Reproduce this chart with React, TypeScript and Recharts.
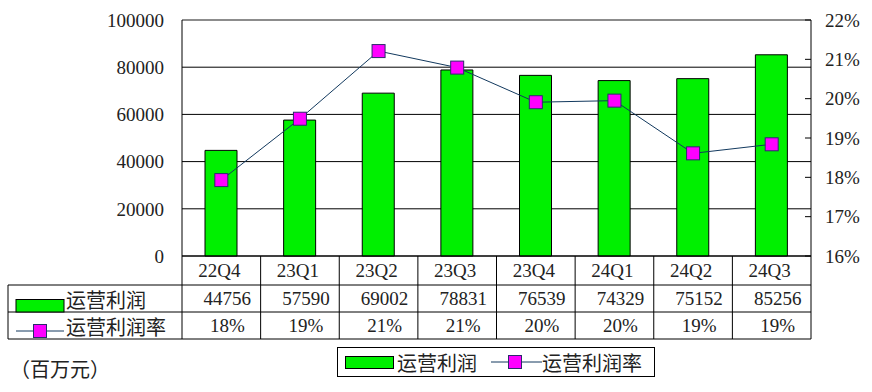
import React from "react";
import { ComposedChart, Bar, Line, XAxis, YAxis, CartesianGrid, ReferenceLine } from "recharts";

const QUARTERS = ["22Q4", "23Q1", "23Q2", "23Q3", "23Q4", "24Q1", "24Q2", "24Q3"];
const OP_PROFIT = [44756, 57590, 69002, 78831, 76539, 74329, 75152, 85256];
const OP_MARGIN = [0.1793, 0.1949, 0.2121, 0.2079, 0.1991, 0.1995, 0.1861, 0.1884];
const LEFT_TICKS = [0, 20000, 40000, 60000, 80000, 100000];
const RIGHT_TICKS = [0.16, 0.17, 0.18, 0.19, 0.2, 0.21, 0.22];
const SERIES_NAMES = ["运营利润", "运营利润率"];
const UNIT_LABEL = "（百万元）";

const data = QUARTERS.map((q, i) => ({
  quarter: q,
  profit: OP_PROFIT[i],
  margin: OP_MARGIN[i],
}));

// layout
const W = 872;
const H = 392;
const PLOT_LEFT = 182;
const PLOT_RIGHT = 811;
const PLOT_TOP = 20;
const TABLE_LEFT = 8;
const ROW1 = 285;
const ROW2 = 312;
const ROW3 = 339;

const GREEN = "#00f000";
const MAGENTA = "#ff00ff";
const LINE_COLOR = "#12395e";
const BORDER = "#2b2b6b";
const FONT = "'Liberation Serif', 'Noto Sans CJK SC', serif";
const CJK_FONT = "'Noto Sans CJK SC', sans-serif";
const TEXT = "#222";

const pct = (v: number) => `${Math.round(v * 100)}%`;

function SquareDot({ cx, cy }: { cx?: number; cy?: number }) {
  if (cx == null || cy == null) return null;
  return (
    <rect x={cx - 6.5} y={cy - 6.5} width={13} height={13} fill={MAGENTA} stroke={BORDER} strokeWidth={1} />
  );
}

function RightTick({ x, y, payload }: any) {
  return (
    <g>
      <line x1={x - 6} y1={y} x2={x} y2={y} stroke="#000" />
      <text x={x + 14} y={y} dy="0.35em" fill={TEXT} fontSize={19} fontFamily={FONT}>
        {pct(payload.value)}
      </text>
    </g>
  );
}

// x axis ticks draw the data table under the plot
function TableTick({ x, y, payload, index }: any) {
  const i = payload.index ?? index;
  const bw = (PLOT_RIGHT - PLOT_LEFT) / QUARTERS.length;
  const right = x + bw / 2;
  return (
    <g>
      <line x1={right} y1={y} x2={right} y2={ROW3} stroke="#000" />
      <text x={x - 2} y={(y + ROW1) / 2} dy="0.35em" textAnchor="middle" fill={TEXT} fontSize={19} fontFamily={FONT}>
        {payload.value}
      </text>
      <text x={x + 6} y={(ROW1 + ROW2) / 2} dy="0.35em" textAnchor="middle" fill={TEXT} fontSize={19} fontFamily={FONT}>
        {OP_PROFIT[i]}
      </text>
      <text x={x + 6} y={(ROW2 + ROW3) / 2} dy="0.35em" textAnchor="middle" fill={TEXT} fontSize={19} fontFamily={FONT}>
        {pct(OP_MARGIN[i])}
      </text>
      {i === 0 && (
        <g>
          <line x1={x - bw / 2} y1={y} x2={x - bw / 2} y2={ROW3} stroke="#000" />
          <line x1={TABLE_LEFT} y1={ROW1} x2={PLOT_RIGHT} y2={ROW1} stroke="#000" />
          <line x1={TABLE_LEFT} y1={ROW2} x2={PLOT_RIGHT} y2={ROW2} stroke="#000" />
          <line x1={TABLE_LEFT} y1={ROW3} x2={PLOT_RIGHT} y2={ROW3} stroke="#000" />
          <line x1={TABLE_LEFT} y1={ROW1} x2={TABLE_LEFT} y2={ROW3} stroke="#000" />
          {/* row headers */}
          <rect x={16} y={299.5} width={48} height={12.5} fill={GREEN} stroke="#000" />
          <text x={66} y={301} dy="0.35em" fill={TEXT} fontSize={20} fontFamily={CJK_FONT}>
            {SERIES_NAMES[0]}
          </text>
          <line x1={16} y1={331} x2={64} y2={331} stroke={LINE_COLOR} />
          <rect x={33.5} y={324.5} width={13} height={13} fill={MAGENTA} stroke={BORDER} />
          <text x={66} y={328} dy="0.35em" fill={TEXT} fontSize={20} fontFamily={CJK_FONT}>
            {SERIES_NAMES[1]}
          </text>
        </g>
      )}
    </g>
  );
}

export default function App() {
  return (
    <div style={{ position: "absolute", left: 0, top: 0, width: W, height: H, background: "#fff" }}>
      <ComposedChart
        width={W}
        height={H}
        data={data}
        margin={{ top: PLOT_TOP, right: 0, left: 0, bottom: 36 }}
        barCategoryGap={0}
      >
        <CartesianGrid yAxisId="left" vertical={false} stroke="#000" />
        <XAxis
          dataKey="quarter"
          interval={0}
          height={100}
          tickSize={0}
          tickMargin={0}
          axisLine={{ stroke: "#000" }}
          tickLine={false}
          tick={<TableTick />}
        />
        <YAxis
          yAxisId="left"
          width={PLOT_LEFT}
          domain={[0, 100000]}
          ticks={LEFT_TICKS}
          interval={0}
          tickSize={0}
          tickMargin={18}
          tickLine={false}
          axisLine={{ stroke: "#000" }}
          tick={{ fill: TEXT, fontSize: 19, fontFamily: FONT }}
        />
        <YAxis
          yAxisId="right"
          orientation="right"
          width={W - PLOT_RIGHT}
          domain={[0.16, 0.22]}
          ticks={RIGHT_TICKS}
          interval={0}
          tickSize={0}
          tickMargin={0}
          tickLine={false}
          axisLine={{ stroke: "#000" }}
          tick={<RightTick />}
        />
        <ReferenceLine yAxisId="left" y={100000} stroke="#999" />
        <Bar
          yAxisId="left"
          dataKey="profit"
          name={SERIES_NAMES[0]}
          barSize={32}
          fill={GREEN}
          stroke="#000"
          strokeWidth={1}
          isAnimationActive={false}
        />
        <Line
          yAxisId="right"
          dataKey="margin"
          name={SERIES_NAMES[1]}
          stroke={LINE_COLOR}
          strokeWidth={1}
          dot={<SquareDot />}
          activeDot={false}
          isAnimationActive={false}
        />
      </ComposedChart>

      <div
        style={{
          position: "absolute",
          left: 10,
          top: 357,
          fontFamily: CJK_FONT,
          fontSize: 20,
          color: TEXT,
          lineHeight: "24px",
        }}
      >
        {UNIT_LABEL}
      </div>

      <div
        style={{
          position: "absolute",
          left: 337,
          top: 347,
          width: 316,
          height: 28,
          border: "1px solid #000",
          display: "flex",
          alignItems: "center",
          fontFamily: CJK_FONT,
          fontSize: 20,
          color: TEXT,
          boxSizing: "content-box",
        }}
      >
        <span style={{ display: "inline-block", width: 47, height: 11, background: GREEN, border: "1px solid #000", marginLeft: 7 }} />
        <span style={{ marginLeft: 3 }}>{SERIES_NAMES[0]}</span>
        <svg width={51} height={14} style={{ marginLeft: 14 }}>
          <line x1={0} y1={7} x2={51} y2={7} stroke={LINE_COLOR} />
          <rect x={17.5} y={0.5} width={13} height={13} fill={MAGENTA} stroke={BORDER} />
        </svg>
        <span>{SERIES_NAMES[1]}</span>
      </div>
    </div>
  );
}
